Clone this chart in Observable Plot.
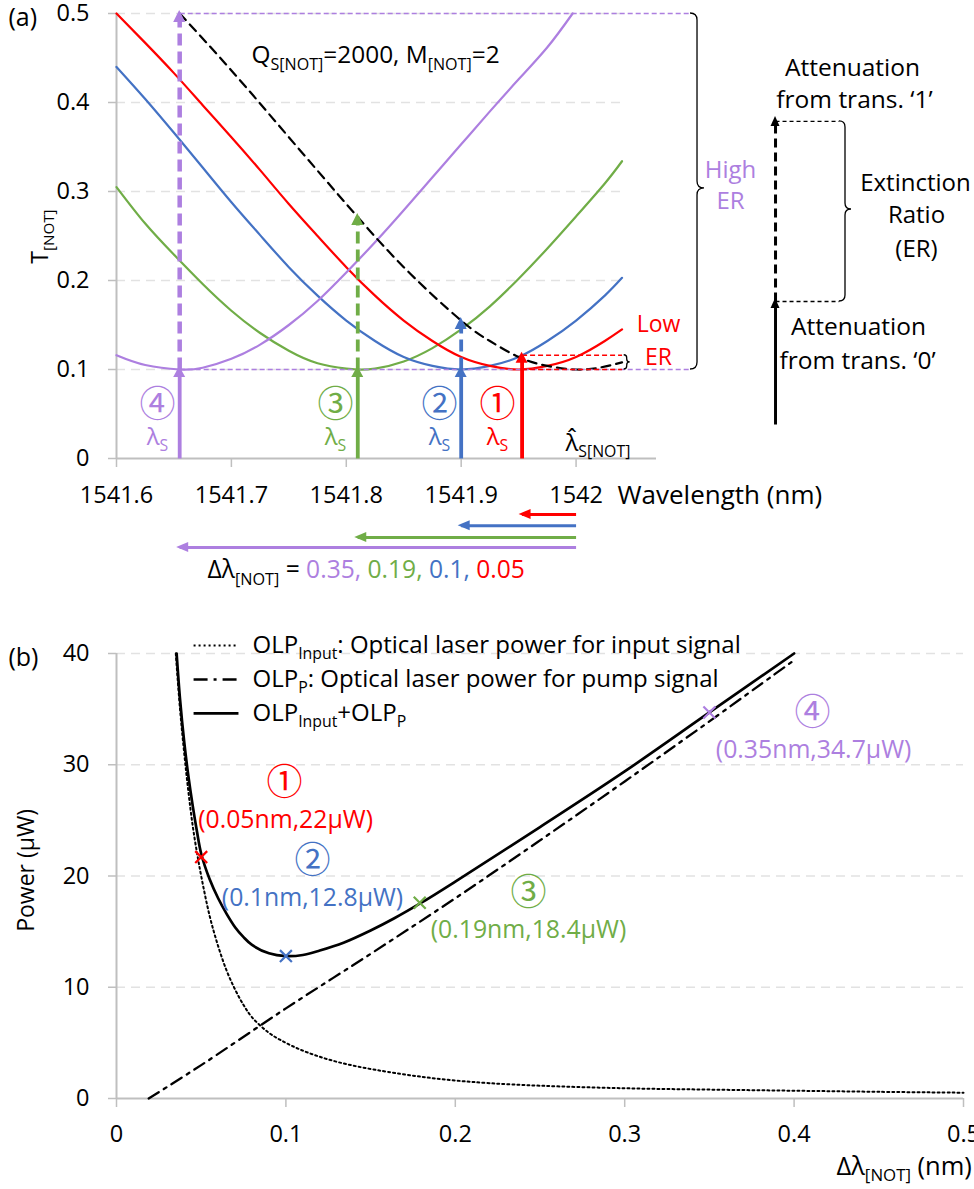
<!DOCTYPE html>
<html><head><meta charset="utf-8">
<script src="https://cdn.jsdelivr.net/npm/d3@7"></script>
<script src="https://cdn.jsdelivr.net/npm/@observablehq/plot@0.6"></script>
<style>
html,body{margin:0;padding:0;background:#fff;overflow:hidden;}
#wrap{width:974px;}
svg{display:block;overflow:visible}
</style></head><body><div id="wrap"></div>
<script>
const RED="#ff0000", BLUE="#4472c4", GREEN="#70ad47", PURPLE="#ad7fe0";
const CJK="Noto Sans CJK JP";
const GRID="#e2e2e2", AXIS="#bfbfbf";

// ---------- Panel (a) data ----------
const xTicksA=[1541.6,1541.7,1541.8,1541.9,1542.0];
const xTickLabelsA=["1541.6","1541.7","1541.8","1541.9","1542"];
const yTicksA=[0,0.1,0.2,0.3,0.4,0.5];
const yTickLabelsA=["0","0.1","0.2","0.3","0.4","0.5"];

const tRed=[[1541.600,0.500],[1541.625,0.467],[1541.650,0.433],[1541.675,0.397],[1541.700,0.361],[1541.725,0.324],[1541.750,0.286],[1541.775,0.250],[1541.800,0.215],[1541.825,0.183],[1541.850,0.155],[1541.875,0.132],[1541.900,0.114],[1541.925,0.104],[1541.950,0.100],[1541.975,0.104],[1542.000,0.114],[1542.025,0.132],[1542.040,0.145]];
const tBlue=[[1541.600,0.440],[1541.625,0.404],[1541.650,0.366],[1541.675,0.327],[1541.700,0.288],[1541.725,0.251],[1541.750,0.215],[1541.775,0.183],[1541.800,0.155],[1541.825,0.132],[1541.850,0.114],[1541.875,0.104],[1541.900,0.100],[1541.925,0.104],[1541.950,0.114],[1541.975,0.132],[1542.000,0.155],[1542.025,0.183],[1542.040,0.203]];
const tGreen=[[1541.600,0.305],[1541.625,0.264],[1541.650,0.229],[1541.675,0.196],[1541.700,0.166],[1541.725,0.141],[1541.750,0.121],[1541.775,0.107],[1541.800,0.101],[1541.810,0.100],[1541.825,0.101],[1541.850,0.109],[1541.875,0.124],[1541.900,0.145],[1541.925,0.171],[1541.950,0.202],[1541.975,0.236],[1542.000,0.272],[1542.025,0.309],[1542.040,0.334]];
const tPurple=[[1541.600,0.116],[1541.625,0.105],[1541.655,0.100],[1541.675,0.102],[1541.700,0.112],[1541.725,0.128],[1541.750,0.150],[1541.775,0.177],[1541.800,0.209],[1541.825,0.243],[1541.850,0.279],[1541.875,0.316],[1541.900,0.353],[1541.925,0.390],[1541.950,0.426],[1541.975,0.462],[1541.997,0.500]];
const tEnvelope=[[1541.655,0.500],[1541.700,0.436],[1541.750,0.361],[1541.800,0.286],[1541.850,0.215],[1541.900,0.155],[1541.925,0.132],[1541.950,0.114],[1541.975,0.104],[1542.000,0.100],[1542.020,0.102],[1542.040,0.108]];

const seriesColors=[RED,BLUE,GREEN,PURPLE];
const deltaNot=[0.05,0.1,0.19,0.35];
const lambdaS=[1541.953,1541.9,1541.81,1541.655];
const tOne=[0.116,0.155,0.272,0.5];
const tMin=0.1;
const lambdaHat=1542.0;
const deltaArrowT=[-0.063,-0.0755,-0.0888,-0.1];

// ---------- Panel (b) data ----------
const xTicksB=[0,0.1,0.2,0.3,0.4,0.5];
const xTickLabelsB=["0","0.1","0.2","0.3","0.4","0.5"];
const yTicksB=[0,10,20,30,40];
const olpInput=[[0.035,40],[0.0375,35],[0.04,31],[0.0425,27.5],[0.045,24.5],[0.0475,22.1],[0.05,20],[0.055,16.4],[0.06,13.7],[0.065,11.5],[0.07,9.8],[0.075,8.4],[0.08,7.3],[0.09,5.9],[0.1,5.0],[0.11,4.3],[0.12,3.75],[0.13,3.3],[0.14,2.95],[0.15,2.65],[0.16,2.4],[0.18,1.95],[0.2,1.62],[0.22,1.38],[0.25,1.15],[0.3,0.92],[0.35,0.8],[0.4,0.7],[0.45,0.6],[0.5,0.52]];
const olpPump=[[0.019,0],[0.05,3.0],[0.1,8.1],[0.15,13.0],[0.2,18.0],[0.25,23.2],[0.3,28.5],[0.35,33.9],[0.4,39.4]];
const olpTotal=[[0.0355,40],[0.0375,35.9],[0.04,32.0],[0.0425,28.9],[0.045,26.3],[0.0475,24.0],[0.05,22.0],[0.055,19.7],[0.06,18.0],[0.065,16.6],[0.07,15.4],[0.075,14.5],[0.08,13.8],[0.09,13.05],[0.1,12.8],[0.11,12.9],[0.12,13.3],[0.134,14.0],[0.15,15.1],[0.164,16.2],[0.18,17.6],[0.2,19.5],[0.25,24.4],[0.3,29.4],[0.35,34.7],[0.4,40]];
const opX=[0.05,0.1,0.179,0.35];
const opP=[21.7,12.8,17.6,34.7];
const opLabels=["(0.05nm,22μW)","(0.1nm,12.8μW)","(0.19nm,18.4μW)","(0.35nm,34.7μW)"];
const opCircled=["①","②","③","④"];

// ---------- helpers ----------
const rich=new Map();
function parse(s){const out=[];const re=/_\{([^}]*)\}/g;let last=0,m;while((m=re.exec(s))){if(m.index>last)out.push({t:s.slice(last,m.index)});out.push({t:m[1],sub:true});last=re.lastIndex;}if(last<s.length)out.push({t:s.slice(last)});return out;}
function R(s){const segs=parse(s);const plain=segs.map(d=>d.t).join("");rich.set(plain,segs);return plain;}
function RC(parts){const segs=[];parts.forEach(([s,f])=>parse(s).forEach(d=>segs.push({...d,fill:f})));const plain=segs.map(d=>d.t).join("");rich.set(plain,segs);return plain;}
const NS="http://www.w3.org/2000/svg";
function applyRich(svg){
  svg.querySelectorAll("text").forEach(el=>{
    if(el.querySelector("tspan"))return;
    const segs=rich.get(el.textContent);if(!segs)return;
    const F=parseFloat(getComputedStyle(el).fontSize)||20;
    el.textContent="";let shifted=false;
    segs.forEach(seg=>{const ts=document.createElementNS(NS,"tspan");ts.textContent=seg.t;
      if(seg.fill)ts.setAttribute("fill",seg.fill);
      if(seg.sub){ts.setAttribute("font-size",(F*0.66)+"px");if(!shifted){ts.setAttribute("dy",(F*0.26)+"px");shifted=true;}}
      else if(shifted){ts.setAttribute("dy",(-F*0.26)+"px");shifted=false;}
      el.appendChild(ts);});
  });
}
function drawArrowHeads(svg,arrows){
  const sx=svg.scale("x"),sy=svg.scale("y");
  arrows.forEach(a=>{
    const x1=sx.apply(a.x1),y1=sy.apply(a.y1),x2=sx.apply(a.x2),y2=sy.apply(a.y2);
    const L=Math.hypot(x2-x1,y2-y1)||1,ux=(x2-x1)/L,uy=(y2-y1)/L;
    const [len,wid]=a.head;
    const tx=x2+ux*3,ty=y2+uy*3,bx=tx-ux*len,by=ty-uy*len,nx=-uy,ny=ux;
    const pts=[[tx,ty],[bx+nx*wid/2,by+ny*wid/2],[bx-nx*wid/2,by-ny*wid/2]];
    d3.select(svg).append("polygon").attr("points",pts.map(p=>p.join(",")).join(" ")).attr("fill",a.color);
  });
}
function drawBraces(svg,braces){
  const sx=svg.scale("x"),sy=svg.scale("y");
  braces.forEach(b=>{
    const X=sx.apply(b.x),T=sy.apply(b.y1),B=sy.apply(b.y2),M=sy.apply(b.ym),r=b.r;
    const d=`M${X-r},${T}Q${X},${T} ${X},${T+r}L${X},${M-r}Q${X},${M} ${X+r},${M}Q${X},${M} ${X},${M+r}L${X},${B-r}Q${X},${B} ${X-r},${B}`;
    d3.select(svg).append("path").attr("d",d).attr("fill","none").attr("stroke","#000").attr("stroke-width",1.3);
  });
}
const toPts=a=>a.map(([x,y])=>({x,y}));
function textMarks(list){return list.map(t=>Plot.text([t],{x:"x",y:"y",text:"s",fill:t.fill||"#000",fontSize:t.size||22,textAnchor:t.anchor||"middle",rotate:t.rotate||0,fontFamily:t.font}));}
function arrowMarks(arrows){return arrows.map(a=>Plot.link([a],{x1:"x1",y1:"y1",x2:"x2",y2:"y2",stroke:a.color,strokeWidth:a.w,strokeDasharray:a.dash||null}));}

// ---------- Panel (a) ----------
const arrowsA=[];
lambdaS.forEach((l,i)=>arrowsA.push({x1:l,y1:0,x2:l,y2:i===0?tOne[0]:tMin,color:seriesColors[i],w:3.8,head:[11,12]}));
[1,2,3].forEach(i=>arrowsA.push({x1:lambdaS[i],y1:tMin,x2:lambdaS[i],y2:tOne[i],color:seriesColors[i],w:i===3?4.5:3.8,dash:"12,6",head:[12,12]}));
lambdaS.forEach((l,i)=>arrowsA.push({x1:lambdaHat,y1:deltaArrowT[i],x2:l,y2:deltaArrowT[i],color:seriesColors[i],w:3,head:[12,10]}));
arrowsA.push({x1:1542.1736,y1:0.0382,x2:1542.1736,y2:0.1764,color:"#000",w:3,head:[10,9]});
arrowsA.push({x1:1542.1736,y1:0.1764,x2:1542.1736,y2:0.381,color:"#000",w:3,dash:"9,5",head:[10,9]});

const dashLinesA=[
  {x1:lambdaS[3],x2:1542.0996,y:0.5,color:PURPLE,dash:"5,3"},
  {x1:lambdaS[3],x2:1542.0996,y:0.1,color:PURPLE,dash:"5,3"},
  {x1:lambdaS[0],x2:1542.04,y:tOne[0],color:RED,dash:"5,3"},
  {x1:lambdaS[0],x2:1542.04,y:0.1,color:RED,dash:"5,3"},
  {x1:1542.1736,x2:1542.229,y:0.3787,color:"#000",dash:"4,3"},
  {x1:1542.1736,x2:1542.229,y:0.1764,color:"#000",dash:"4,3"}
];
const bracesA=[
  {x:1542.1057,y1:0.5,y2:0.1,ym:0.3034,r:7},
  {x:1542.2345,y1:0.3787,y2:0.1764,ym:0.2798,r:6},
  {x:1542.0445,y1:0.116,y2:0.1,ym:0.108,r:3}
];
const textsA=[
  {x:1541.506,y:0.495,s:"(a)",size:25,anchor:"start"},
  {x:1541.534,y:0.2494,s:R("T_{[NOT]}"),size:23,rotate:-90},
  {x:1541.7175,y:0.4528,s:R("Q_{S[NOT]}=2000, M_{[NOT]}=2"),size:24.4,anchor:"start"},
  {x:1541.6357,y:0.0595,s:"④",size:36,fill:PURPLE,font:CJK},
  {x:1541.7906,y:0.0595,s:"③",size:36,fill:GREEN,font:CJK},
  {x:1541.8811,y:0.0595,s:"②",size:36,fill:BLUE,font:CJK},
  {x:1541.9316,y:0.0595,s:"①",size:36,fill:RED,font:CJK},
  {x:1541.6357,y:0.0236,s:R("λ_{S}"),size:24,fill:PURPLE},
  {x:1541.7906,y:0.0236,s:R("λ_{S}"),size:24,fill:GREEN},
  {x:1541.8811,y:0.0236,s:R("λ_{S}"),size:24,fill:BLUE},
  {x:1541.9316,y:0.0236,s:R("λ_{S}"),size:24,fill:RED},
  {x:1541.9908,y:0.0169,s:R("λ\u0302_{S[NOT]}"),size:24,anchor:"start"},
  {x:1542.0361,y:-0.0416,s:"Wavelength (nm)",size:26,anchor:"start"},
  {x:1541.6792,y:-0.1258,s:RC([["Δλ_{[NOT]} = ","#000"],["0.35, ",PURPLE],["0.19, ",GREEN],["0.1, ",BLUE],["0.05",RED]]),size:24.6,anchor:"start"},
  {x:1542.1344,y:0.3236,s:"High",size:24,fill:PURPLE},
  {x:1542.1344,y:0.2888,s:"ER",size:24,fill:PURPLE},
  {x:1542.0717,y:0.1506,s:"Low",size:23,fill:RED},
  {x:1542.0717,y:0.1135,s:"ER",size:23,fill:RED},
  {x:1542.2406,y:0.4382,s:"Attenuation",size:24.5},
  {x:1542.2423,y:0.4022,s:"from trans. ‘1’",size:24.5},
  {x:1542.2954,y:0.309,s:"Extinction",size:24},
  {x:1542.2963,y:0.273,s:"Ratio",size:24},
  {x:1542.2963,y:0.2348,s:"(ER)",size:24},
  {x:1542.2458,y:0.1472,s:"Attenuation",size:24.5},
  {x:1542.2450,y:0.109,s:"from trans. ‘0’",size:24.5}
];

const svgA=Plot.plot({
  width:974,height:600,marginLeft:116,marginRight:318,marginTop:13,marginBottom:142,
  style:{fontFamily:"'Open Sans'",fontSize:"22px",background:"#fff",overflow:"visible",color:"#000"},
  x:{domain:[1541.6,1542.07]},
  y:{domain:[0,0.5]},
  marks:[
    Plot.ruleY(yTicksA.filter(d=>d>0),{x1:1541.6,x2:1542.04,stroke:GRID,strokeWidth:1.5,strokeDasharray:"9,6"}),
    Plot.ruleY([0],{stroke:AXIS,strokeWidth:2}),
    Plot.ruleX([1541.6],{stroke:AXIS,strokeWidth:2}),
    Plot.axisY(yTicksA,{tickSize:8,tickPadding:19,stroke:AXIS,strokeWidth:1.5,fontSize:23.5,tickFormat:d=>yTickLabelsA[yTicksA.indexOf(d)],label:null}),
    Plot.axisX(xTicksA,{tickSize:9,tickPadding:19,stroke:AXIS,strokeWidth:1.5,fontSize:23.5,tickFormat:d=>xTickLabelsA[xTicksA.indexOf(d)],label:null}),
    Plot.line(toPts(tGreen),{x:"x",y:"y",stroke:GREEN,strokeWidth:2.2,curve:"natural"}),
    Plot.line(toPts(tBlue),{x:"x",y:"y",stroke:BLUE,strokeWidth:2.2,curve:"natural"}),
    Plot.line(toPts(tRed),{x:"x",y:"y",stroke:RED,strokeWidth:2.2,curve:"natural"}),
    Plot.line(toPts(tPurple),{x:"x",y:"y",stroke:PURPLE,strokeWidth:2.2,curve:"natural"}),
    Plot.line(toPts(tEnvelope),{x:"x",y:"y",stroke:"#000",strokeWidth:2.2,strokeDasharray:"9,6",curve:"natural"}),
    ...dashLinesA.map(l=>Plot.link([l],{x1:"x1",x2:"x2",y1:"y",y2:"y",stroke:l.color,strokeWidth:1.3,strokeDasharray:l.dash})),
    ...arrowMarks(arrowsA),
    ...textMarks(textsA)
  ]
});
document.getElementById("wrap").appendChild(svgA);
applyRich(svgA);drawArrowHeads(svgA,arrowsA);drawBraces(svgA,bracesA);

// ---------- Panel (b) ----------
const legendB=[
  {y:40.72,s:R("OLP_{Input}: Optical laser power for input signal"),dash:"2,3",w:2},
  {y:37.66,s:R("OLP_{P}: Optical laser power for pump signal"),dash:"14,6,3,6",w:2.5},
  {y:34.61,s:R("OLP_{Input}+OLP_{P}"),dash:null,w:2.7}
];
const opPos=[[0.0992,28.3,0.0998,24.99],[0.1157,21.3,0.1157,17.98],[0.2432,18.45,0.2432,15.1],[0.4109,34.6,0.4115,31.28]];
const textsB=[
  {x:-0.0638,y:39.64,s:"(b)",size:25,anchor:"start"},
  {x:-0.0531,y:20.5,s:"Power (μW)",size:23,rotate:-90},
  {x:0.425,y:-6.11,s:R("Δλ_{[NOT]} (nm)"),size:25.5,anchor:"start"},
  ...legendB.map(l=>({x:0.0803,y:l.y,s:l.s,size:24,anchor:"start"})),
  ...opPos.map((p,i)=>({x:p[0],y:p[1],s:opCircled[i],size:36,fill:seriesColors[i],font:CJK})),
  ...opPos.map((p,i)=>({x:p[2],y:p[3],s:opLabels[i],size:24.8,fill:seriesColors[i]}))
];
const svgB=Plot.plot({
  width:974,height:589,marginLeft:116,marginRight:11,marginTop:53,marginBottom:91,
  style:{fontFamily:"'Open Sans'",fontSize:"22px",background:"#fff",overflow:"visible",color:"#000"},
  x:{domain:[0,0.5]},
  y:{domain:[0,40]},
  marks:[
    Plot.ruleY(yTicksB.filter(d=>d>0),{stroke:GRID,strokeWidth:1.5,strokeDasharray:"9,6"}),
    Plot.ruleY([0],{stroke:AXIS,strokeWidth:2}),
    Plot.ruleX([0],{stroke:AXIS,strokeWidth:2}),
    Plot.axisY(yTicksB,{tickSize:8,tickPadding:19,stroke:AXIS,strokeWidth:1.5,fontSize:23.5,label:null,tickFormat:d=>String(d)}),
    Plot.axisX(xTicksB,{tickSize:9,tickPadding:18,stroke:AXIS,strokeWidth:1.5,fontSize:23.5,label:null,tickFormat:d=>xTickLabelsB[xTicksB.indexOf(d)]}),
    Plot.line(toPts(olpInput),{x:"x",y:"y",stroke:"#000",strokeWidth:2,strokeDasharray:"2,3",curve:"catmull-rom"}),
    Plot.line(toPts(olpPump),{x:"x",y:"y",stroke:"#000",strokeWidth:2.3,strokeDasharray:"12,6,3,6",curve:"catmull-rom"}),
    Plot.line(toPts(olpTotal),{x:"x",y:"y",stroke:"#000",strokeWidth:2.7,curve:"catmull-rom"}),
    ...legendB.map(l=>Plot.link([l],{x1:()=>0.0455,x2:()=>0.072,y1:"y",y2:"y",stroke:"#000",strokeWidth:l.w,strokeDasharray:l.dash})),
    Plot.dot(opX.map((x,i)=>({x,y:opP[i],c:seriesColors[i]})),{x:"x",y:"y",stroke:d=>d.c,symbol:"times",r:5.5,strokeWidth:2.2}),
    ...textMarks(textsB)
  ]
});
document.getElementById("wrap").appendChild(svgB);
applyRich(svgB);
</script></body></html>
